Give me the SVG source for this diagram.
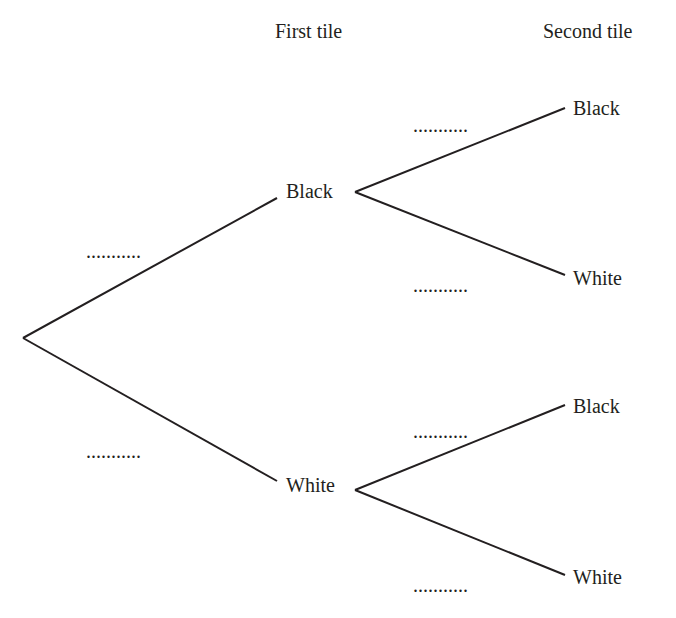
<svg xmlns="http://www.w3.org/2000/svg" width="676" height="618" viewBox="0 0 676 618">
<style>
text{font-family:"Liberation Serif",serif;font-size:20px;fill:#231f20}
line{stroke:#231f20;stroke-width:2}
</style>
<rect width="676" height="618" fill="#fff"/>
<g id="headers"><text x="275" y="38">First tile</text><text x="543" y="38">Second tile</text></g>
<g id="connectors">
<line x1="23" y1="338" x2="277" y2="198"/>
<line x1="23" y1="338" x2="277" y2="481"/>
<line x1="355" y1="192" x2="565" y2="108"/>
<line x1="355" y1="192" x2="565" y2="275"/>
<line x1="355" y1="490" x2="565" y2="405"/>
<line x1="355" y1="490" x2="565" y2="575"/>
</g>
<g id="n1"><text x="286" y="198">Black</text></g>
<g id="n2"><text x="286" y="492">White</text></g>
<g id="n3"><text x="573" y="115">Black</text></g>
<g id="n4"><text x="573" y="285">White</text></g>
<g id="n5"><text x="573" y="413">Black</text></g>
<g id="n6"><text x="573" y="584">White</text></g>
<g id="blanks">
<text x="86" y="258">...........</text>
<text x="86" y="458">...........</text>
<text x="413" y="132">...........</text>
<text x="413" y="292">...........</text>
<text x="413" y="438">...........</text>
<text x="413" y="592">...........</text>
</g>
</svg>
